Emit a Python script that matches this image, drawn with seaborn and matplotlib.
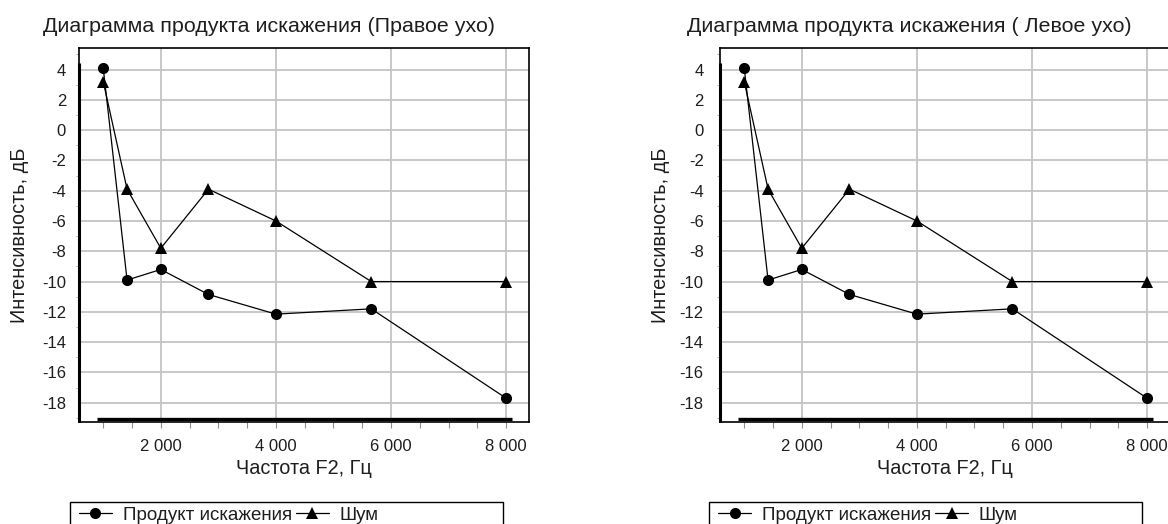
import numpy as np
import pandas as pd
import matplotlib
matplotlib.use("Agg")
import matplotlib.pyplot as plt
import seaborn as sns
from matplotlib.ticker import FuncFormatter, MultipleLocator, FixedLocator
from matplotlib.lines import Line2D
from matplotlib.patches import Rectangle

# ---- data ----
freq = [1000, 1414, 2000, 2828, 4000, 5657, 8000]
product_db = [4.1, -9.9, -9.2, -10.85, -12.15, -11.8, -17.7]
noise_db = [3.2, -3.9, -7.8, -3.9, -6.0, -10.0, -10.0]
series_names = ["Продукт искажения", "Шум"]
titles = ["Диаграмма продукта искажения (Правое ухо)",
          "Диаграмма продукта искажения ( Левое ухо)"]
x_ticks = [2000, 4000, 6000, 8000]
y_ticks = list(range(-18, 5, 2))
xlabel = "Частота F2, Гц"
ylabel = "Интенсивность, дБ"

sns.set_theme(style="white")
plt.rcParams['font.family'] = ['Liberation Sans', 'DejaVu Sans']
plt.rcParams['axes.unicode_minus'] = False

df = pd.DataFrame({
    "freq": freq + freq,
    "db": product_db + noise_db,
    "series": [series_names[0]] * len(freq) + [series_names[1]] * len(freq),
})

W, H = 1168, 524
fig = plt.figure(figsize=(W / 100, H / 100), dpi=100)

ax_top, ax_bot, ax_w = 48.3, 421.7, 450
panels = [
    dict(axl=78.6, tx=268.7, lgl=69.6, lgr=502.9, ypad=9.0),
    dict(axl=719.6, tx=909.0, lgl=708.7, lgr=1142.4, ypad=11.5),
]
xlim = (572, 8390)
ylim = (-19.25, 5.4)
markers = {series_names[0]: "o", series_names[1]: "^"}
txt = "#1e1e1e"

fmt = FuncFormatter(lambda v, p: f"{int(v):,}".replace(",", " "))

for i, p in enumerate(panels):
    ax = fig.add_axes([p["axl"] / W, 1 - ax_bot / H, ax_w / W, (ax_bot - ax_top) / H])
    sns.lineplot(data=df, x="freq", y="db", style="series", markers=markers,
                 dashes=False, color="black", linewidth=0.9, markersize=8,
                 markeredgewidth=0, legend=False, ax=ax, zorder=3)
    ax.set_xlim(*xlim)
    ax.set_ylim(*ylim)
    ax.xaxis.set_major_locator(FixedLocator(x_ticks))
    ax.xaxis.set_minor_locator(MultipleLocator(500))
    ax.yaxis.set_major_locator(FixedLocator(y_ticks))
    ax.yaxis.set_minor_locator(MultipleLocator(1))
    ax.xaxis.set_major_formatter(fmt)
    ax.grid(True, which="major", color="#c4c4c4", linewidth=1.3, zorder=0)
    for s in ax.spines.values():
        s.set_color("black")
        s.set_linewidth(1.2)
    ax.tick_params(axis="x", which="both", direction="out", length=4, width=0.8,
                   color="#909090", bottom=True, labelsize=12, pad=8.5, labelcolor=txt)
    ax.tick_params(axis="y", which="major", length=0, pad=p["ypad"], labelsize=12,
                   labelcolor=txt, left=True)
    ax.tick_params(axis="y", which="minor", direction="out", length=2, width=0.6,
                   color="#a0a0a0", left=True)
    ax.set_xlabel(xlabel, fontsize=14.3, color=txt)
    ax.set_ylabel(ylabel, fontsize=14.3, color=txt)
    ax.xaxis.set_label_coords(0.5, -(468 - ax_bot) / (ax_bot - ax_top))
    ax.xaxis.label.set_va("center")
    ax.yaxis.set_label_coords(-0.132, 0.5)
    ax.yaxis.label.set_va("center")

    # thick axis artefacts
    ax.plot([890, 8095], [-19.07, -19.07], color="black", lw=2.4, solid_capstyle="butt",
            clip_on=False, zorder=4)
    ax.plot([xlim[0] + 8, xlim[0] + 8], [ylim[0], 4.4], color="black", lw=2.2,
            solid_capstyle="butt", clip_on=False, zorder=4)

    fig.text(p["tx"] / W, 1 - 27 / H, titles[i], ha="center", va="center",
             fontsize=15.4, color=txt)

    # legend box
    fig.patches.append(Rectangle((p["lgl"] / W, -0.05), (p["lgr"] - p["lgl"]) / W,
                                 (1 - 501.7 / H) + 0.05, transform=fig.transFigure,
                                 fill=False, edgecolor="black", linewidth=1.0))
    handles = [Line2D([], [], color="black", lw=0.9, marker=markers[n], markersize=8,
                      markeredgewidth=0) for n in series_names]
    fig.legend(handles, series_names, loc="center left",
               bbox_to_anchor=((p["lgl"] + 9) / W, 1 - 515 / H), ncol=2, frameon=False,
               fontsize=13.5, handlelength=1.8, handletextpad=0.55, columnspacing=0.2,
               borderpad=0, borderaxespad=0, labelcolor=txt)

fig.savefig("out.png", dpi=100)
